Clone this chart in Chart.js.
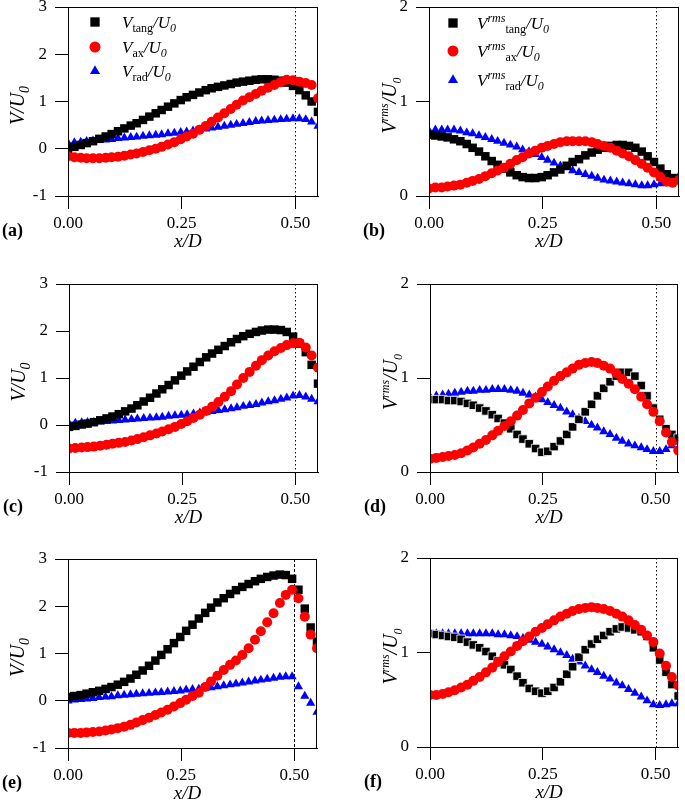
<!DOCTYPE html>
<html>
<head>
<meta charset="utf-8">
<script src="https://cdn.jsdelivr.net/npm/chart.js@4.4.0/dist/chart.umd.min.js"></script>
<style>
  body { margin: 0; background: #fff; }
  #wrap { position: relative; width: 685px; height: 800px; overflow: hidden; background: #fff; }
  canvas { position: absolute; }
</style>
</head>
<body>
<div id="wrap"></div>
<script>
// x/D positions of the measurement points
var xD = [0.000,0.014,0.028,0.041,0.055,0.069,0.083,0.096,0.110,0.124,0.138,0.151,0.165,0.179,0.193,0.206,0.220,0.234,0.248,0.261,0.275,0.289,0.303,0.316,0.330,0.344,0.358,0.371,0.385,0.399,0.413,0.426,0.440,0.454,0.468,0.481,0.495,0.509,0.523,0.536,0.550];

// (a) mean velocities
var tangA = [0.00,0.04,0.08,0.12,0.16,0.21,0.26,0.31,0.37,0.43,0.49,0.54,0.61,0.68,0.75,0.82,0.89,0.96,1.03,1.09,1.14,1.19,1.24,1.28,1.31,1.34,1.37,1.40,1.42,1.44,1.46,1.47,1.47,1.46,1.44,1.40,1.33,1.24,1.13,1.00,0.78];
var axA   = [-0.16,-0.18,-0.19,-0.20,-0.20,-0.20,-0.19,-0.18,-0.17,-0.15,-0.12,-0.10,-0.07,-0.03,0.00,0.04,0.09,0.14,0.20,0.26,0.32,0.40,0.48,0.57,0.66,0.75,0.84,0.93,1.02,1.09,1.16,1.23,1.29,1.35,1.41,1.46,1.45,1.42,1.39,1.35,1.07];
var radA  = [0.12,0.13,0.14,0.16,0.17,0.18,0.19,0.20,0.22,0.23,0.24,0.25,0.27,0.28,0.29,0.30,0.32,0.33,0.35,0.36,0.38,0.40,0.42,0.44,0.46,0.48,0.50,0.52,0.54,0.56,0.58,0.59,0.60,0.61,0.62,0.63,0.64,0.64,0.62,0.57,0.48];
// (b) rms
var tangB = [0.65,0.64,0.63,0.62,0.60,0.58,0.55,0.51,0.47,0.42,0.37,0.33,0.29,0.25,0.22,0.20,0.19,0.19,0.20,0.22,0.25,0.28,0.32,0.36,0.39,0.43,0.46,0.49,0.51,0.53,0.54,0.54,0.53,0.51,0.47,0.42,0.36,0.29,0.23,0.19,0.17];
var axB   = [0.08,0.09,0.09,0.10,0.11,0.12,0.14,0.16,0.18,0.21,0.24,0.27,0.30,0.34,0.38,0.41,0.45,0.48,0.51,0.53,0.55,0.57,0.58,0.58,0.58,0.58,0.57,0.55,0.53,0.51,0.48,0.45,0.42,0.38,0.34,0.30,0.25,0.20,0.15,0.14,0.17];
var radB  = [0.69,0.70,0.70,0.70,0.70,0.69,0.67,0.66,0.64,0.62,0.60,0.58,0.56,0.54,0.52,0.49,0.47,0.44,0.41,0.38,0.35,0.32,0.30,0.27,0.25,0.23,0.21,0.19,0.17,0.16,0.15,0.14,0.13,0.12,0.11,0.11,0.12,0.13,0.15,0.18,0.21];
// (c)
var tangC = [-0.04,-0.02,0.01,0.03,0.06,0.10,0.14,0.18,0.23,0.29,0.35,0.42,0.50,0.58,0.67,0.76,0.85,0.95,1.05,1.14,1.24,1.34,1.44,1.52,1.60,1.68,1.76,1.83,1.89,1.94,1.98,2.01,2.03,2.03,2.02,1.98,1.88,1.73,1.55,1.28,0.88];
var axC   = [-0.50,-0.49,-0.48,-0.47,-0.46,-0.44,-0.42,-0.40,-0.38,-0.36,-0.33,-0.30,-0.26,-0.22,-0.18,-0.14,-0.09,-0.04,0.02,0.08,0.15,0.22,0.30,0.39,0.49,0.60,0.72,0.86,1.00,1.13,1.26,1.38,1.48,1.57,1.64,1.70,1.74,1.75,1.65,1.48,1.22];
var radC  = [0.03,0.04,0.05,0.06,0.06,0.07,0.08,0.09,0.10,0.11,0.12,0.13,0.14,0.15,0.16,0.17,0.19,0.20,0.21,0.22,0.24,0.26,0.27,0.29,0.31,0.33,0.35,0.37,0.40,0.42,0.44,0.47,0.50,0.52,0.55,0.58,0.62,0.63,0.60,0.55,0.50];
// (d)
var tangD = [0.77,0.77,0.77,0.76,0.76,0.75,0.73,0.71,0.68,0.65,0.61,0.57,0.52,0.46,0.40,0.35,0.30,0.25,0.21,0.22,0.27,0.33,0.40,0.48,0.56,0.64,0.72,0.81,0.89,0.96,1.02,1.06,1.06,1.02,0.92,0.81,0.68,0.56,0.46,0.40,0.36];
var axD   = [0.14,0.15,0.16,0.17,0.18,0.20,0.23,0.26,0.30,0.34,0.39,0.44,0.49,0.54,0.60,0.66,0.73,0.79,0.85,0.91,0.97,1.02,1.06,1.10,1.14,1.16,1.17,1.16,1.13,1.10,1.05,0.99,0.94,0.88,0.80,0.72,0.64,0.54,0.42,0.32,0.23];
var radD  = [0.80,0.81,0.82,0.83,0.84,0.85,0.86,0.86,0.87,0.87,0.88,0.88,0.88,0.87,0.86,0.84,0.82,0.80,0.77,0.74,0.71,0.68,0.64,0.61,0.57,0.54,0.50,0.47,0.43,0.40,0.36,0.33,0.30,0.28,0.26,0.24,0.22,0.22,0.24,0.28,0.32];
// (e)
var tangE = [0.08,0.10,0.12,0.15,0.18,0.21,0.25,0.29,0.34,0.40,0.47,0.55,0.64,0.74,0.85,0.97,1.09,1.22,1.35,1.48,1.61,1.74,1.86,1.97,2.08,2.17,2.26,2.34,2.41,2.47,2.53,2.58,2.62,2.65,2.67,2.66,2.58,2.35,1.95,1.55,1.25];
var axE   = [-0.68,-0.68,-0.68,-0.67,-0.66,-0.65,-0.63,-0.61,-0.58,-0.55,-0.51,-0.46,-0.41,-0.36,-0.30,-0.25,-0.19,-0.12,-0.05,0.02,0.10,0.17,0.29,0.41,0.53,0.65,0.76,0.85,0.97,1.11,1.29,1.47,1.66,1.85,2.07,2.24,2.35,2.17,1.78,1.40,1.11];
var radE  = [0.00,0.02,0.03,0.04,0.05,0.07,0.08,0.09,0.11,0.12,0.13,0.14,0.15,0.16,0.17,0.18,0.19,0.20,0.21,0.23,0.24,0.25,0.27,0.28,0.30,0.32,0.34,0.36,0.38,0.40,0.42,0.44,0.46,0.48,0.50,0.51,0.51,0.30,0.10,-0.05,-0.24];
// (f)
var tangF = [1.20,1.19,1.18,1.17,1.16,1.14,1.11,1.08,1.05,1.01,0.96,0.91,0.87,0.82,0.75,0.68,0.62,0.59,0.57,0.59,0.63,0.69,0.77,0.85,0.95,1.03,1.09,1.14,1.18,1.22,1.25,1.27,1.26,1.24,1.22,1.17,1.05,0.92,0.79,0.66,0.54];
var axF   = [0.55,0.55,0.56,0.58,0.60,0.63,0.66,0.70,0.74,0.79,0.84,0.90,0.96,1.01,1.07,1.12,1.17,1.22,1.26,1.30,1.34,1.38,1.41,1.44,1.46,1.47,1.48,1.47,1.46,1.44,1.41,1.38,1.34,1.29,1.24,1.18,1.11,0.99,0.86,0.74,0.65];
var radF  = [1.20,1.20,1.20,1.20,1.20,1.20,1.20,1.20,1.20,1.20,1.20,1.19,1.19,1.18,1.17,1.15,1.13,1.11,1.09,1.06,1.03,1.00,0.97,0.93,0.90,0.86,0.82,0.79,0.75,0.72,0.68,0.65,0.61,0.57,0.53,0.49,0.45,0.44,0.45,0.46,0.46];

var xTicks = [0, 0.25, 0.5];
var yTicksMean = [-1, 0, 1, 2, 3];
var yTicksRms = [0, 1, 2];
var compNames = ['tang', 'ax', 'rad'];
var panelLabels = ['(a)', '(b)', '(c)', '(d)', '(e)', '(f)'];

// chart area of each panel, in page pixels
var panels = [
    { L: 68,  T: 7,   R: 322, B: 196, rms: false, legend: true,  outline: false, dash: [1.5, 2.5], data: [tangA, axA, radA] },
    { L: 429, T: 7,   R: 683, B: 196, rms: true,  legend: true,  outline: false, dash: [1.5, 2.5], data: [tangB, axB, radB] },
    { L: 69,  T: 284, R: 322, B: 472, rms: false, legend: false, outline: false, dash: [1.5, 2.5], data: [tangC, axC, radC] },
    { L: 430, T: 284, R: 683, B: 472, rms: true,  legend: false, outline: true,  dash: [1.5, 2.5], data: [tangD, axD, radD] },
    { L: 68,  T: 559, R: 321, B: 748, rms: false, legend: false, outline: false, dash: [3, 2],     data: [tangE, axE, radE] },
    { L: 430, T: 558, R: 683, B: 747, rms: true,  legend: false, outline: true,  dash: [1.5, 2.5], data: [tangF, axF, radF] }
];

var styles = [
    { pointStyle: 'rect', color: '#000000', radius: 6.0 },
    { pointStyle: 'circle', color: '#ff0000', radius: 5.0 },
    { pointStyle: 'triangle', color: '#0000ff', radius: 5.3 }
];

var FONT = '"Liberation Serif", "Times New Roman", serif';
var Y_W = 68, X_H = 60, PAD_T = 12, PAD_R = 2;

function runsWidth(ctx, runs) {
    var w = 0;
    runs.forEach(function(r) {
        ctx.font = (r.it ? 'italic ' : '') + r.size + 'px ' + FONT;
        w += ctx.measureText(r.t).width;
    });
    return w;
}

function drawRuns(ctx, runs, x, y) {
    runs.forEach(function(r) {
        ctx.font = (r.it ? 'italic ' : '') + r.size + 'px ' + FONT;
        ctx.fillText(r.t, x, y + (r.dy || 0));
        x += ctx.measureText(r.t).width;
    });
}

// V[^rms][_comp]/U_0 as styled text runs
function labelRuns(rms, comp, big, small) {
    var runs = [{ t: 'V', it: true, size: big }];
    if (rms) runs.push({ t: 'rms', it: true, size: small, dy: -Math.round(big * 0.42) });
    if (comp) runs.push({ t: comp, size: small, dy: Math.round(big * 0.25) });
    runs.push({ t: '/U', it: true, size: big });
    runs.push({ t: '0', it: true, size: small, dy: Math.round(big * 0.25) });
    return runs;
}

function marker(ctx, st, x, y, scale) {
    var r = st.radius * scale;
    ctx.fillStyle = st.color;
    ctx.beginPath();
    if (st.pointStyle === 'rect') {
        var s = r * Math.SQRT1_2;
        ctx.rect(x - s, y - s, 2 * s, 2 * s);
    } else if (st.pointStyle === 'circle') {
        ctx.arc(x, y, r, 0, Math.PI * 2);
    } else {
        ctx.moveTo(x, y - r);
        ctx.lineTo(x + r * Math.sin(Math.PI * 2 / 3), y - r * Math.cos(Math.PI * 2 / 3));
        ctx.lineTo(x + r * Math.sin(Math.PI * 4 / 3), y - r * Math.cos(Math.PI * 4 / 3));
        ctx.closePath();
    }
    ctx.fill();
}

function panelPlugin(p, idx) {
    return {
        id: 'panel' + idx,
        beforeDatasetsDraw: function(chart) {
            var ctx = chart.ctx, ca = chart.chartArea;
            var xp = Math.round(chart.scales.x.getPixelForValue(0.5)) + 0.5;
            ctx.save();
            ctx.strokeStyle = '#000';
            ctx.lineWidth = 1;
            ctx.setLineDash(p.dash);
            ctx.beginPath();
            ctx.moveTo(xp, ca.top);
            ctx.lineTo(xp, ca.bottom);
            ctx.stroke();
            ctx.restore();
        },
        afterDraw: function(chart) {
            var ctx = chart.ctx, ca = chart.chartArea;
            ctx.save();
            ctx.strokeStyle = '#000';
            ctx.lineWidth = 1;
            ctx.strokeRect(Math.round(ca.left) + 0.5, Math.round(ca.top) + 0.5,
                Math.round(ca.right - ca.left) - 1, Math.round(ca.bottom - ca.top));
            ctx.fillStyle = '#000';

            // x title
            ctx.textBaseline = 'middle';
            ctx.textAlign = 'center';
            ctx.font = 'italic 19px ' + FONT;
            ctx.fillText('x/D', (ca.left + ca.right) / 2 - 5, ca.bottom + 46);

            // panel label
            ctx.textAlign = 'left';
            ctx.font = 'bold 18px ' + FONT;
            ctx.fillText(panelLabels[idx], ca.left - 66, ca.bottom + 35);

            // y title (rotated)
            ctx.textBaseline = 'alphabetic';
            var yr = p.rms ? labelRuns(true, null, 20, 12) : labelRuns(false, null, 20, 14);
            var w = runsWidth(ctx, yr);
            ctx.save();
            ctx.translate(ca.left - (p.rms ? 40 : 51), (ca.top + ca.bottom) / 2 + 4);
            ctx.rotate(-Math.PI / 2);
            drawRuns(ctx, yr, -w / 2, 7);
            ctx.restore();

            // legend
            if (p.legend) {
                var mx = ca.left + (p.rms ? 24 : 27);
                var tx = ca.left + (p.rms ? 48 : 54);
                var rows = p.rms ? [16, 44, 73] : [15, 40, 64];
                for (var k = 0; k < 3; k++) {
                    var yy = ca.top + rows[k];
                    marker(ctx, styles[k], mx, yy, 1.1);
                    ctx.fillStyle = '#000';
                    drawRuns(ctx, labelRuns(p.rms, compNames[k], 17, 12), tx, yy + 6);
                }
            }
            ctx.restore();
        }
    };
}

var wrap = document.getElementById('wrap');

panels.forEach(function(p, idx) {
    var cv = document.createElement('canvas');
    var w = p.R - p.L + Y_W + PAD_R;
    var h = p.B - p.T + PAD_T + X_H;
    cv.width = w;
    cv.height = h;
    cv.style.width = w + 'px';
    cv.style.height = h + 'px';
    cv.style.left = (p.L - Y_W) + 'px';
    cv.style.top = (p.T - PAD_T) + 'px';
    wrap.appendChild(cv);

    // dataset 0 is drawn last: red on top, then black, blue at the back
    var order = [1, 0, 2];
    var datasets = order.map(function(k) {
        var st = styles[k];
        var edge = (k === 0 && p.outline);
        return {
            label: compNames[k],
            data: xD.map(function(x, i) { return { x: x, y: p.data[k][i] }; }),
            pointStyle: st.pointStyle,
            pointRadius: st.radius,
            pointHoverRadius: st.radius,
            pointBackgroundColor: st.color,
            pointBorderColor: '#ffffff',
            pointBorderWidth: edge ? 0.8 : 0,
            showLine: false,
            clip: 0
        };
    });

    var tickFont = { family: FONT, size: 17 };
    var yTicks = p.rms ? yTicksRms : yTicksMean;

    new Chart(cv.getContext('2d'), {
        type: 'scatter',
        data: { datasets: datasets },
        options: {
            responsive: false,
            animation: false,
            devicePixelRatio: 1,
            events: [],
            layout: { padding: { left: 0, top: PAD_T, right: PAD_R, bottom: 0 } },
            plugins: { legend: { display: false }, tooltip: { enabled: false } },
            scales: {
                x: {
                    type: 'linear',
                    min: 0,
                    max: 0.55,
                    afterBuildTicks: function(s) { s.ticks = xTicks.map(function(v) { return { value: v }; }); },
                    afterFit: function(s) { s.height = X_H; s.paddingLeft = 0; s.paddingRight = 0; },
                    ticks: {
                        color: '#000', font: tickFont, padding: 4, maxRotation: 0,
                        callback: function(v) { return v.toFixed(2); }
                    },
                    grid: { drawOnChartArea: false, drawTicks: true, tickLength: 13, tickColor: '#000', tickWidth: 1 },
                    border: { display: true, color: '#000', width: 1 }
                },
                y: {
                    type: 'linear',
                    min: p.rms ? 0 : -1,
                    max: p.rms ? 2 : 3,
                    afterBuildTicks: function(s) { s.ticks = yTicks.map(function(v) { return { value: v }; }); },
                    afterFit: function(s) { s.width = Y_W; s.paddingTop = 0; s.paddingBottom = 0; },
                    ticks: {
                        color: '#000', font: tickFont, padding: 8,
                        callback: function(v) { return v < 0 ? '-' + Math.abs(v) : String(v); }
                    },
                    grid: { drawOnChartArea: false, drawTicks: true, tickLength: 13, tickColor: '#000', tickWidth: 1 },
                    border: { display: true, color: '#000', width: 1 }
                }
            }
        },
        plugins: [panelPlugin(p, idx)]
    });
});
</script>
</body>
</html>
